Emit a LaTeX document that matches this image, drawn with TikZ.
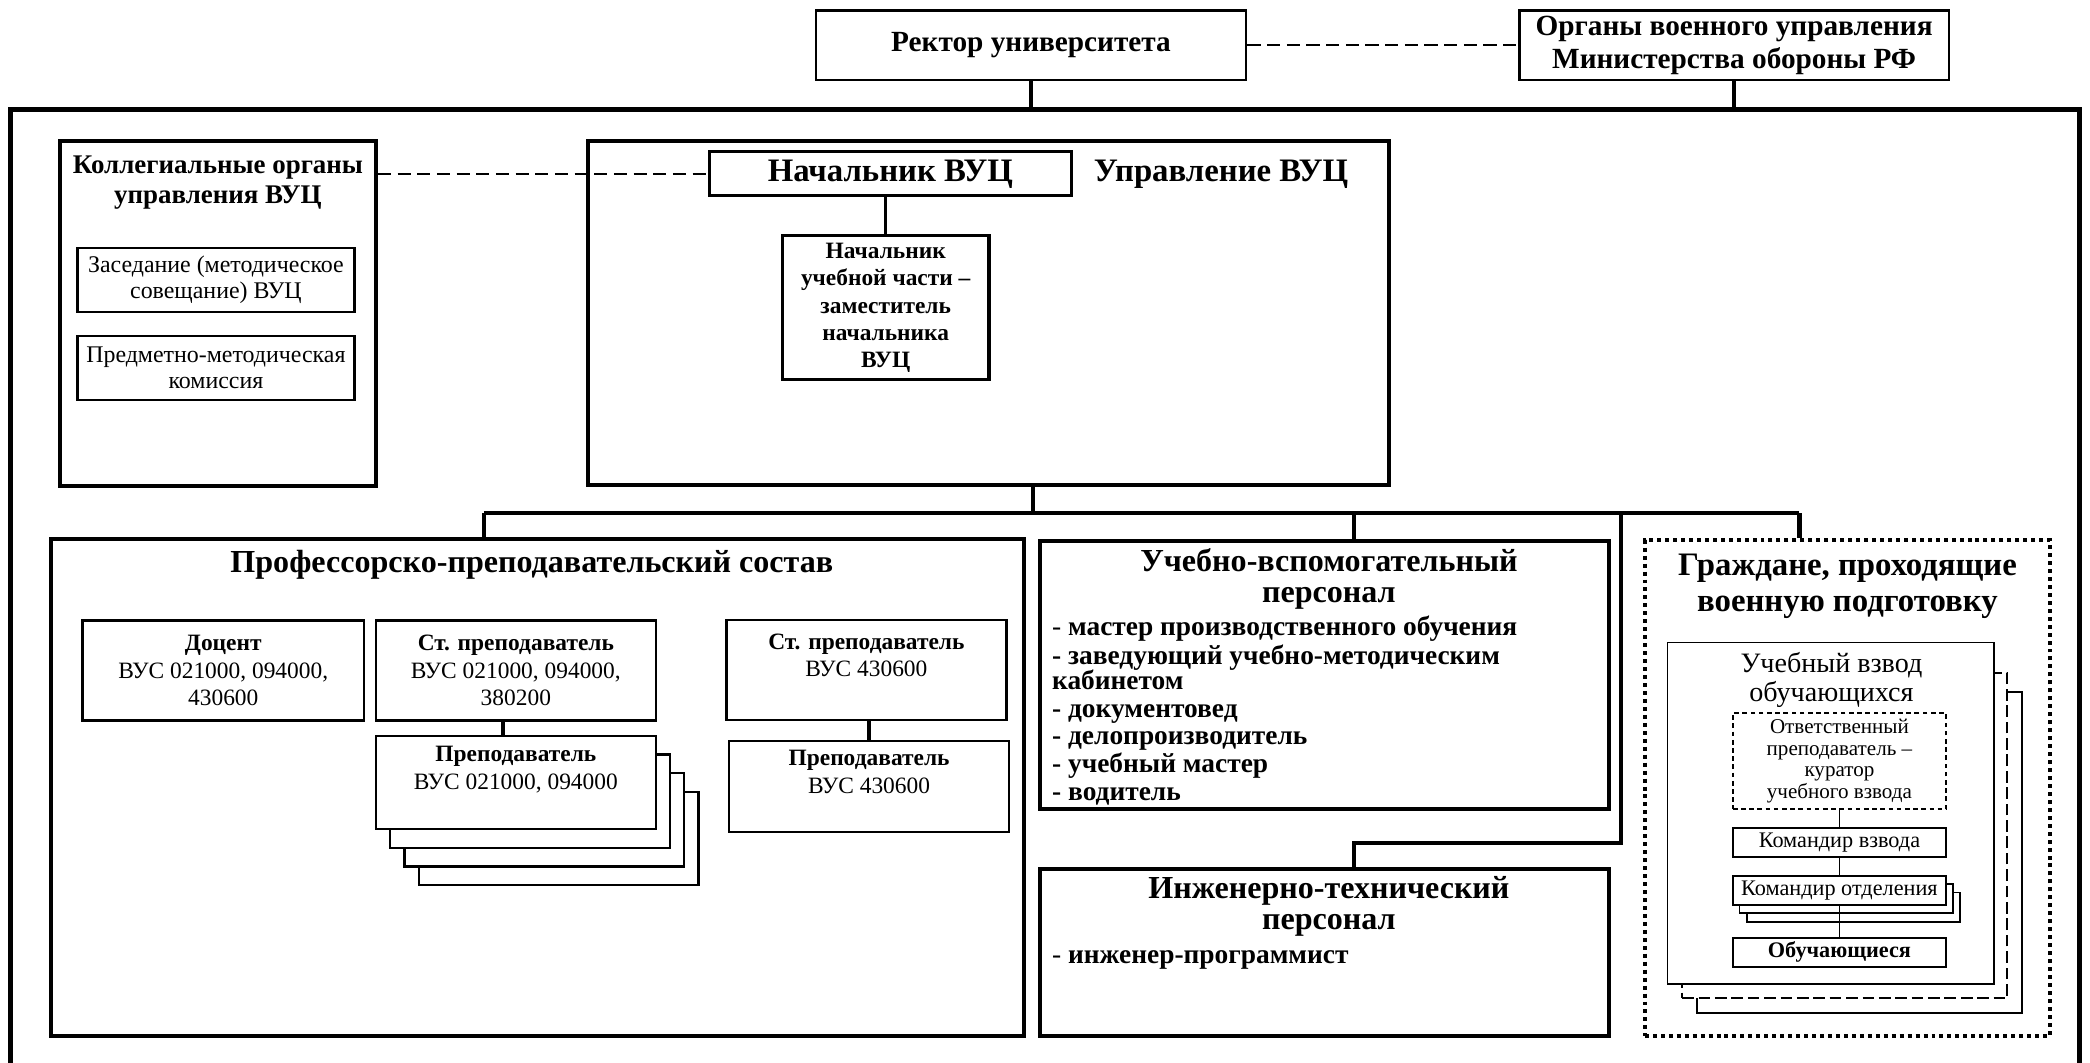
\documentclass[tikz,border=0pt]{standalone}
\usepackage{fontspec}
\setmainfont{Liberation Serif}
\usetikzlibrary{calc}
\tikzstyle{orgbox}=[rectangle,draw,line width=1.7pt,inner sep=0pt]
\tikzstyle{posbox}=[rectangle,draw,line width=1pt,fill=white,align=center,inner sep=0pt,font=\fontsize{10}{11.8}\selectfont]
\tikzstyle{cellbox}=[rectangle,draw,line width=0.7pt,fill=white,align=center,inner sep=0pt,minimum width=3.2cm,minimum height=0.44cm,font=\fontsize{9.5}{9.5}\selectfont]
\tikzstyle{headtext}=[align=center,inner sep=0pt,font=\bfseries\fontsize{13.7}{13}\selectfont]
\tikzstyle{itemtext}=[anchor=base west,inner sep=0pt,font=\bfseries\fontsize{11.7}{12}\selectfont]
\tikzstyle{link}=[line width=1.8pt]
\tikzstyle{thinlink}=[line width=0.8pt]
\tikzstyle{loose}=[line width=1pt,dash pattern=on 5.6pt off 2.8pt]

\begin{document}
\begin{tikzpicture}[x=0.02cm, y=-0.02cm]
    \useasboundingbox (0,0) rectangle (1568,797);

    \node[posbox,minimum width=6.46cm,minimum height=1.04cm,font=\bfseries\fontsize{12.5}{14}\selectfont] (rector) at (773.5,34) {Ректор университета};
    \node[posbox,minimum width=6.44cm,minimum height=1.04cm,font=\bfseries\fontsize{12.5}{14}\selectfont] (mo) at (1301,34) {Органы военного управления\\Министерства обороны РФ\rule[-2pt]{0pt}{2pt}};
    \draw[loose] (rector) -- (mo);

    \coordinate (vuc) at (8,82);
    \draw[line width=2.3pt] (8,800) -- (vuc) -- (1560,82) -- (1560,800);
    \draw[link] (rector.south) -- (rector.south |- vuc);
    \draw[link] (mo.south) -- (mo.south |- vuc);

    \node[orgbox,minimum width=4.74cm,minimum height=5.18cm] (koll) at (163.5,235.5) {};
    \node[headtext,font=\bfseries\fontsize{11.5}{12.8}\selectfont] (kolltitle) at (163.5,137) {Коллегиальные органы\\управления ВУЦ};
    \node[posbox,minimum width=4.16cm,minimum height=0.96cm,font=\fontsize{10.2}{11.3}\selectfont] (zased) at (162,210) {Заседание (методическое\\совещание) ВУЦ};
    \node[posbox,minimum width=4.16cm,minimum height=0.96cm,font=\fontsize{10.2}{11.3}\selectfont] (predm) at (162,276) {Предметно-методическая\\комиссия};

    \node[orgbox,minimum width=12.02cm,minimum height=5.16cm] (uprav) at (741.5,235) {};
    \node[posbox,line width=1.3pt,minimum width=5.44cm,minimum height=0.66cm,font=\bfseries\fontsize{14}{14}\selectfont] (nach) at (668,130.5) {Начальник ВУЦ};
    \node[headtext,font=\bfseries\fontsize{14}{14}\selectfont] (upravtitle) at (916,131) {Управление ВУЦ};
    \node[posbox,line width=1.3pt,minimum width=3.1cm,minimum height=2.16cm,font=\bfseries\fontsize{10}{11.6}\selectfont] (zam) at (664.5,231) {Начальник\\учебной части –\\заместитель\\начальника\\ВУЦ};
    \draw[link,line width=1.4pt] (zam.north) -- (zam.north |- nach.south);
    \draw[loose] (koll.east |- nach.west) -- (nach.west);

    \node[orgbox,minimum width=14.6cm,minimum height=7.46cm] (pps) at (403,590.5) {};
    \node[headtext] (ppstitle) at (399,424) {Профессорско-преподавательский состав};
    \node[posbox,minimum width=4.22cm,minimum height=1.5cm] (docent) at (167.5,503) {\textbf{Доцент}\\ВУС 021000, 094000,\\430600};
    \node[posbox,minimum width=4.2cm,minimum height=1.5cm] (stprep) at (387,503) {\textbf{Ст. преподаватель}\\ВУС 021000, 094000,\\380200};
    \foreach \s in {3,2,1}
        \node[posbox,minimum width=4.2cm,minimum height=1.4cm] (prep\s) at (387+10.7*\s,587+14*\s) {};
    \node[posbox,minimum width=4.2cm,minimum height=1.4cm] (prep) at (387,587) {\textbf{Преподаватель}\\ВУС 021000, 094000\\[-3pt]\strut};
    \draw[link] ([xshift=-0.19cm]stprep.south) -- ([xshift=-0.19cm]prep.north);
    \node[posbox,minimum width=4.2cm,minimum height=1.5cm] (stprepb) at (650,502.5) {\textbf{Ст. преподаватель}\\ВУС 430600\\[-3pt]\strut};
    \node[posbox,minimum width=4.2cm,minimum height=1.36cm] (prepb) at (652,590) {\textbf{Преподаватель}\\ВУС 430600\\[-3pt]\strut};
    \draw[link] (prepb.north) -- (prepb.north |- stprepb.south);

    \node[orgbox,minimum width=8.54cm,minimum height=4.02cm] (vspom) at (993.5,506.5) {};
    \node[headtext] (vspomtitle) at (997,434.5) {Учебно-вспомогательный\\персонал};
    \foreach \y/\t [count=\i] in {470/{{\mdseries-}\ мастер производственного обучения},492/{- заведующий учебно-методическим},511/{кабинетом},532/{- документовед},552/{- делопроизводитель},573/{- учебный мастер},594/{- водитель}}
        \node[itemtext] (vspom\i) at (789,\y+6.5) {\t};

    \node[orgbox,minimum width=8.54cm,minimum height=2.5cm] (inzh) at (993.5,714.5) {};
    \node[headtext] (inzhtitle) at (997,680) {Инженерно-технический\\персонал};
    \node[itemtext] (inzh1) at (789,722.5) {{\mdseries-}\ инженер-программист};

    \node[orgbox,dash pattern=on 1.7pt off 1.7pt,minimum width=6.08cm,minimum height=7.44cm] (grazh) at (1386,591) {};
    \node[headtext,font=\bfseries\fontsize{14}{15.5}\selectfont] (grazhtitle) at (1386,440) {Граждане, проходящие\\военную подготовку};
    \node[posbox,line width=0.8pt,minimum width=4.88cm,minimum height=4.82cm] (vzvod2) at (1395,639.5) {};
    \node[posbox,line width=0.8pt,dash pattern=on 5pt off 2pt,minimum width=4.88cm,minimum height=4.88cm] (vzvod1) at (1384,627) {};
    \node[posbox,line width=0.8pt,minimum width=4.9cm,minimum height=5.12cm] (vzvod) at (1373.5,610) {};
    \node[align=center,inner sep=0pt,font=\fontsize{12}{12.5}\selectfont] (vzvodtitle) at (1374,510) {Учебный взвод\\обучающихся};
    \node[cellbox,dash pattern=on 2pt off 1.5pt,minimum height=1.44cm,font=\fontsize{9}{9.3}\selectfont] (kurator) at (1380,571) {Ответственный\\преподаватель –\\куратор\\учебного взвода};
    \node[cellbox] (komvz) at (1380,632) {Командир взвода};
    \foreach \s/\dx/\dy in {2/10.5/12.5,1/5/6}
        \node[cellbox] (komotd\s) at (1380+\dx,668+\dy) {};
    \node[cellbox] (komotd) at (1380,668) {Командир отделения};
    \node[cellbox,font=\bfseries\fontsize{9.5}{9.5}\selectfont] (obuch) at (1380,714.5) {Обучающиеся};
    \draw[thinlink] (kurator) -- (komvz);
    \draw[thinlink] (komvz) -- (komotd);
    \draw[thinlink] (komotd) -- (obuch);

    \coordinate (bus) at (775,385);
    \coordinate (busL) at (363,385);
    \coordinate (busV) at (1016,385);
    \coordinate (busI) at (1216,385);
    \coordinate (busR) at (1350,385);
    \draw[link] (uprav.south -| bus) -- (bus);
    \draw[link] (busL) -- (busR);
    \foreach \c/\n in {busL/pps,busV/vspom,busR/grazh}
        \draw[link] (\c) -- (\c |- \n.north);
    \draw[link] (busI) |- ($(busV |- inzh.north)+(0,-18)$) -- (busV |- inzh.north);
\end{tikzpicture}
\end{document}
